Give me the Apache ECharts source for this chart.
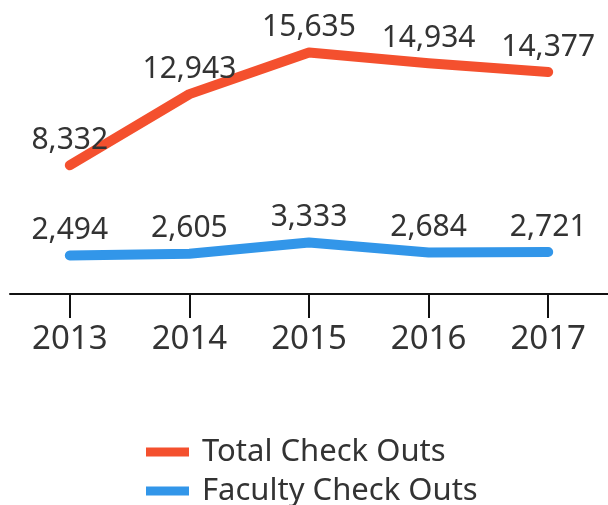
<!DOCTYPE html>
<html>
<head>
<meta charset="utf-8">
<script src="https://cdn.jsdelivr.net/npm/echarts@6/dist/echarts.min.js"></script>
<style>
  html, body { margin: 0; padding: 0; background: #fff; }
  #chart { width: 608px; height: 505px; }
</style>
</head>
<body>
<div id="chart"></div>
<script>
const years = ["2013", "2014", "2015", "2016", "2017"];
const totalCheckOuts = [8332, 12943, 15635, 14934, 14377];
const facultyCheckOuts = [2494, 2605, 3333, 2684, 2721];

const FONT = "'Noto Sans', sans-serif";
const RED = "#f4502e";
const BLUE = "#3296e9";

const fmt = (p) => p.value.toLocaleString("en-US");

const lineSeries = (name, data, color) => ({
  name,
  type: "line",
  data,
  symbol: "circle",
  symbolSize: 0,
  itemStyle: { color },
  lineStyle: { color, width: 10, cap: "round", join: "round" },
  label: {
    show: true,
    position: "top",
    distance: 10,
    formatter: fmt,
    fontFamily: FONT,
    fontSize: 30,
    color: "#333",
  },
  animation: false,
});

const chart = echarts.init(document.getElementById("chart"));
chart.setOption({
  grid: { left: 10, right: -4, top: 16, bottom: 211, containLabel: false },
  xAxis: {
    type: "category",
    data: years,
    boundaryGap: true,
    axisLine: { lineStyle: { color: "#111", width: 2 } },
    axisTick: { show: true, alignWithLabel: true, length: 24, lineStyle: { color: "#111", width: 2 } },
    axisLabel: { fontFamily: FONT, fontSize: 33, color: "#333", margin: 29 },
  },
  yAxis: {
    type: "value",
    min: 0,
    max: 18000,
    show: false,
    splitLine: { show: false },
  },
  legend: {
    orient: "vertical",
    left: 146,
    top: 436,
    height: 100,
    padding: 0,
    itemWidth: 43,
    itemHeight: 9,
    itemGap: 7,
    icon: "rect",
    textStyle: { fontFamily: FONT, fontSize: 31, lineHeight: 32, color: "#333", padding: [0, 0, 0, 8] },
    data: ["Total Check Outs", "Faculty Check Outs"],
  },
  series: [
    lineSeries("Total Check Outs", totalCheckOuts, RED),
    lineSeries("Faculty Check Outs", facultyCheckOuts, BLUE),
  ],
});
</script>
</body>
</html>
